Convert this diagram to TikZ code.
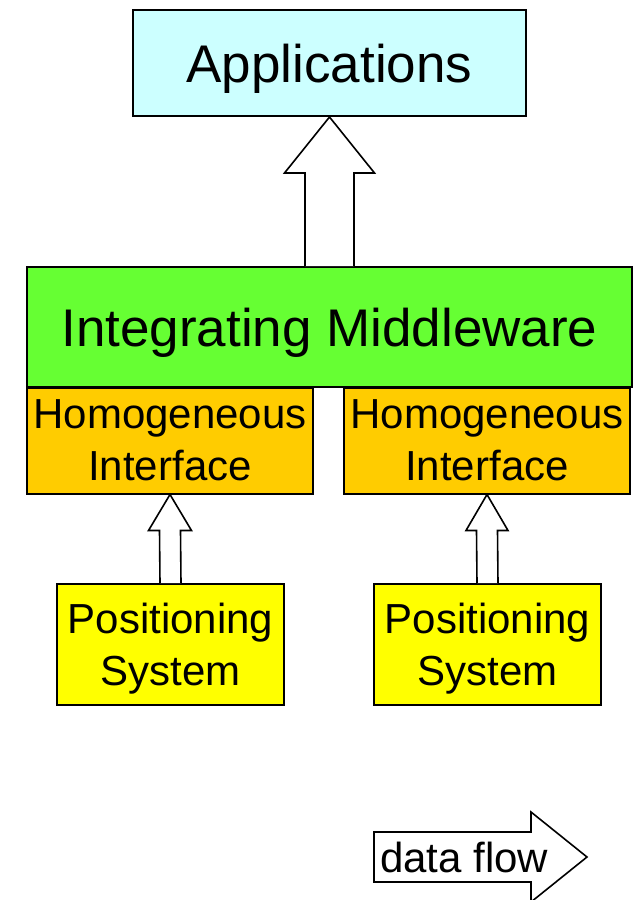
\documentclass[tikz,border=0pt]{standalone}
\usepackage{fontspec}
\setmainfont{Liberation Sans}
\usetikzlibrary{calc}
\definecolor{appcyan}{HTML}{CCFFFF}
\definecolor{midgreen}{HTML}{66FF33}
\definecolor{ifaceorange}{HTML}{FFCC00}
\definecolor{posyellow}{HTML}{FFFF00}
% hollow upward block arrow from the top of #1 to the bottom of #2
% #3 shaft half width, #4 head half width, #5 head length
\newcommand\upblockarrow[5]{%
  \draw[flowarrow]
    ($(#1.north)+(-#3,0)$) -- ($(#2.south)+(-#3,#5)$) -- ($(#2.south)+(-#4,#5)$)
    -- (#2.south) -- ($(#2.south)+(#4,#5)$) -- ($(#2.south)+(#3,#5)$)
    -- ($(#1.north)+(#3,0)$);}
\begin{document}
\begin{tikzpicture}[x=1pt,y=-1pt,
  box/.style={draw=black,line width=2pt,inner sep=0pt,align=center,text=black,
    text depth=0pt},
  bigtext/.style={font=\fontsize{53}{60}\selectfont},
  smalltext/.style={font=\fontsize{42}{52}\selectfont},
  flowarrow/.style={draw=black,fill=white,line width=1.6pt,line join=miter}]
\useasboundingbox (0,0) rectangle (634,900);
\fill[white] (0,0) rectangle (634,900);

\node[box,bigtext,fill=appcyan,minimum width=393pt,minimum height=106pt]
  (app) at (329.5,63) {Applications};
\node[box,bigtext,fill=midgreen,minimum width=605pt,minimum height=120pt]
  (mid) at (329.5,327) {Integrating Middleware};
\node[box,smalltext,fill=ifaceorange,minimum width=286pt,minimum height=106pt]
  (hl) at (170,440.5) {Homogeneous\\Interface};
\node[box,smalltext,fill=ifaceorange,minimum width=286pt,minimum height=106pt]
  (hr) at (487,440.5) {Homogeneous\\Interface};
\node[box,smalltext,fill=posyellow,minimum width=227pt,minimum height=121pt]
  (pl) at (170.5,644.5) {Positioning\\System};
\node[box,smalltext,fill=posyellow,minimum width=227pt,minimum height=121pt]
  (pr) at (487.5,644.5) {Positioning\\System};

\upblockarrow{mid}{app}{24.5}{45}{56}
\upblockarrow{pl}{hl}{10.5}{21.5}{36}
\upblockarrow{pr}{hr}{10.5}{21}{36}

% legend arrow
\coordinate (lg) at (374,857);
\draw[flowarrow]
  ($(lg)+(0,-25)$) -- ($(lg)+(157,-25)$) -- ($(lg)+(157,-45)$) -- ($(lg)+(213,0)$)
  -- ($(lg)+(157,45)$) -- ($(lg)+(157,25)$) -- ($(lg)+(0,25)$) -- cycle;
\node[smalltext,anchor=west,inner sep=0pt] (legend) at ($(lg)+(6,0)$) {data flow};
\end{tikzpicture}
\end{document}
